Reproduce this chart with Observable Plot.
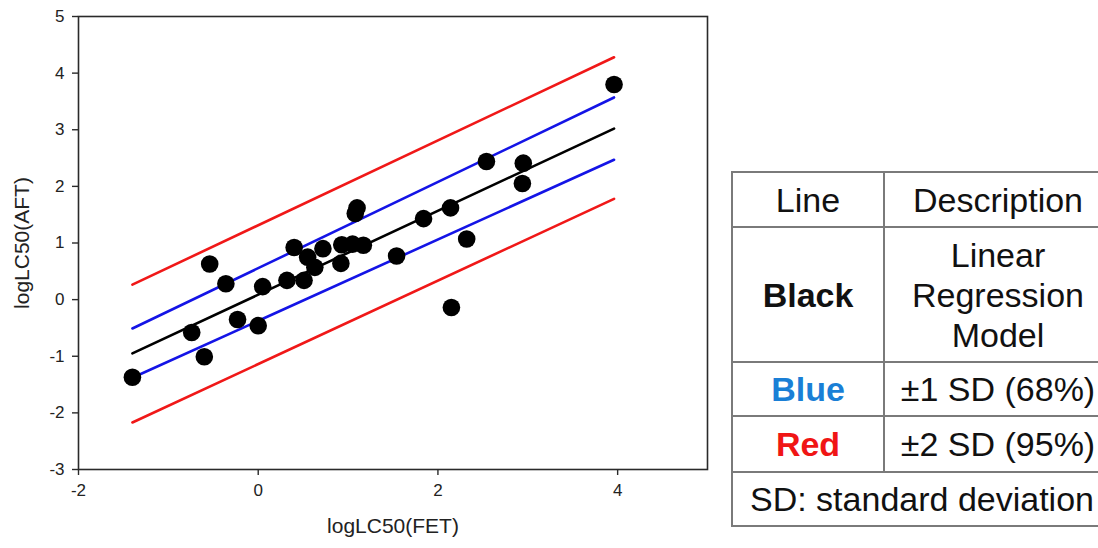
<!DOCTYPE html>
<html>
<head>
<meta charset="utf-8">
<script src="https://cdn.jsdelivr.net/npm/d3@7"></script>
<script src="https://cdn.jsdelivr.net/npm/@observablehq/plot@0.6"></script>
<style>
  html, body { margin: 0; padding: 0; background: #fff; overflow: hidden; width: 1098px; height: 548px; }
  #wrap { position: relative; width: 1098px; height: 548px; overflow: hidden; font-family: "Liberation Sans", Arial, sans-serif; }
  #chart { position: absolute; left: 0; top: 0; }
  #legend { position: absolute; left: 731px; top: 171px; width: 376px; table-layout: fixed; border-collapse: collapse; font-family: "Liberation Sans", Arial, sans-serif; font-size: 34px; color: #111; }
  #legend td { border: 2px solid #7a7a7a; text-align: center; padding: 0; line-height: 40px; }
</style>
</head>
<body>
<div id="wrap">
  <div id="chart"></div>
  <table id="legend"></table>
</div>
<script>
// Observed data points: logLC50(FET) vs logLC50(AFT)
const fetX = [-1.40, -0.74, -0.60, -0.54, -0.36, -0.23, 0.00, 0.05, 0.32, 0.40, 0.51, 0.55, 0.63, 0.72, 0.92, 0.93, 1.05, 1.08, 1.10, 1.17, 1.54, 1.84, 2.14, 2.15, 2.32, 2.54, 2.94, 2.95, 3.96];
const aftY = [-1.37, -0.58, -1.01, 0.63, 0.28, -0.35, -0.46, 0.23, 0.34, 0.92, 0.34, 0.75, 0.57, 0.90, 0.64, 0.97, 0.98, 1.52, 1.62, 0.96, 0.77, 1.43, 1.62, -0.14, 1.07, 2.44, 2.05, 2.41, 3.80];

// Line endpoints (x range of fitted lines)
const lineX = [-1.40, 3.96];
const blackLine = [-0.95, 3.02];
const blueUpper = [-0.51, 3.57];
const blueLower = [-1.38, 2.47];
const redUpper = [0.265, 4.28];
const redLower = [-2.17, 1.78];

const xTicks = [-2, 0, 2, 4];
const yTicks = [-3, -2, -1, 0, 1, 2, 3, 4, 5];

// Legend table content
const legendHeader = ["Line", "Description"];
const legendNames = ["Black", "Blue", "Red"];
const legendColors = ["#111111", "#1a7fd6", "#f01515"];
const legendDescs = [["Linear", "Regression", "Model"], ["\u00b11 SD (68%)"], ["\u00b12 SD (95%)"]];
const legendFooter = "SD: standard deviation";

const points = fetX.map((x, i) => ({x, y: aftY[i]}));
const mk = (ys) => lineX.map((x, i) => ({x, y: ys[i]}));

const lineStyle = {x: "x", y: "y", strokeWidth: 2.6};
const fmt = d => d < 0 ? "-" + Math.abs(d) : String(d);

const plot = Plot.plot({
  width: 720,
  height: 548,
  marginLeft: 78,
  marginRight: 13,
  marginTop: 16,
  marginBottom: 79,
  style: {fontFamily: "'Liberation Sans', Arial, sans-serif", background: "#fff", color: "#222", fontSize: "17px"},
  x: {domain: [-2, 5]},
  y: {domain: [-3, 5]},
  marks: [
    Plot.frame({stroke: "#2a2a2a", strokeWidth: 1.6}),
    Plot.axisX({ticks: xTicks, tickSize: 6, tickPadding: 8, fontSize: 17, tickFormat: fmt,
      label: "logLC50(FET)", labelAnchor: "center", labelArrow: "none", labelOffset: 63, stroke: "#2a2a2a", strokeWidth: 1.4}),
    Plot.axisY({ticks: yTicks, tickSize: 6, tickPadding: 8, fontSize: 17, tickFormat: fmt,
      label: "logLC50(AFT)", labelAnchor: "center", labelArrow: "none", labelOffset: 64, stroke: "#2a2a2a", strokeWidth: 1.4}),
    Plot.line(mk(redUpper), {...lineStyle, stroke: "#f01818"}),
    Plot.line(mk(redLower), {...lineStyle, stroke: "#f01818"}),
    Plot.line(mk(blueUpper), {...lineStyle, stroke: "#1414e6"}),
    Plot.line(mk(blueLower), {...lineStyle, stroke: "#1414e6"}),
    Plot.line(mk(blackLine), {...lineStyle, stroke: "#000"}),
    Plot.dot(points, {x: "x", y: "y", r: 8.8, fill: "#000", stroke: "none"})
  ]
});
plot.querySelectorAll("g[aria-label='x-axis tick label'], g[aria-label='y-axis tick label']").forEach(g => {
  g.setAttribute("font-size", "17");
  g.querySelectorAll("text").forEach(t => t.setAttribute("font-size", "17"));
});
plot.querySelectorAll("g[aria-label='x-axis label'] text, g[aria-label='y-axis label'] text").forEach(t => t.setAttribute("font-size", "21"));
document.getElementById("chart").appendChild(plot);

// Build legend table
const table = d3.select("#legend");
const colW = [150, 226];
const hdr = table.append("tr").style("height", "55px");
legendHeader.forEach((h, i) => hdr.append("td").style("width", colW[i] + "px").text(h));
const rowH = [135, 54, 56];
legendNames.forEach((name, i) => {
  const tr = table.append("tr").style("height", rowH[i] + "px");
  tr.append("td").style("font-weight", "bold").style("color", legendColors[i]).text(name);
  const td = tr.append("td");
  td.html(legendDescs[i].join("<br>"));
});
table.append("tr").style("height", "54px").append("td").attr("colspan", 2).text(legendFooter);
</script>
</body>
</html>
